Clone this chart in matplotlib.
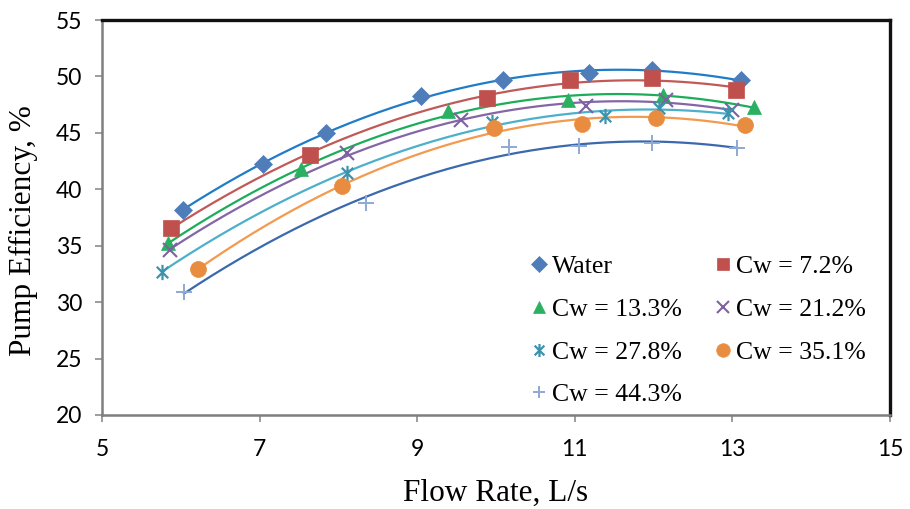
import numpy as np
import matplotlib
matplotlib.use("Agg")
import matplotlib.pyplot as plt
from matplotlib.path import Path

# Pump efficiency vs. flow rate for water and slurries of increasing concentration
labels = ["Water", "Cw = 7.2%", "Cw = 13.3%", "Cw = 21.2%",
          "Cw = 27.8%", "Cw = 35.1%", "Cw = 44.3%"]

q_water = [6.03, 7.04, 7.84, 9.05, 10.09, 11.18, 11.98, 13.11]
e_water = [38.2, 42.25, 45.0, 48.25, 49.7, 50.3, 50.55, 49.7]

q_c07 = [5.87, 7.64, 9.89, 10.94, 11.98, 13.05]
e_c07 = [36.6, 43.05, 48.1, 49.7, 49.85, 48.8]

q_c13 = [5.84, 7.52, 9.39, 10.91, 12.12, 13.27]
e_c13 = [35.2, 41.8, 46.9, 47.9, 48.35, 47.3]

q_c21 = [5.86, 8.11, 9.56, 11.14, 12.16, 13.0]
e_c21 = [34.6, 43.2, 46.1, 47.4, 47.9, 47.0]

q_c28 = [5.76, 8.11, 9.95, 11.38, 12.07, 12.94]
e_c28 = [32.7, 41.45, 45.95, 46.5, 47.2, 46.75]

q_c35 = [6.22, 8.04, 9.97, 11.09, 12.03, 13.16]
e_c35 = [32.9, 40.3, 45.45, 45.8, 46.3, 45.7]

q_c44 = [6.04, 8.35, 10.16, 11.05, 11.98, 13.06]
e_c44 = [30.9, 38.8, 43.75, 43.85, 44.1, 43.65]

flows = [q_water, q_c07, q_c13, q_c21, q_c28, q_c35, q_c44]
effs = [e_water, e_c07, e_c13, e_c21, e_c28, e_c35, e_c44]

x_ticks = [5, 7, 9, 11, 13, 15]
y_ticks = [20, 25, 30, 35, 40, 45, 50, 55]

# six-armed star: an "x" crossed by a vertical stroke
star = Path([(-0.75, -0.75), (0.75, 0.75), (-0.75, 0.75), (0.75, -0.75),
             (0, -1), (0, 1)],
            [Path.MOVETO, Path.LINETO, Path.MOVETO, Path.LINETO,
             Path.MOVETO, Path.LINETO])

# styling per series: marker, marker colour, trendline colour, marker size
markers = ["D", "s", "^", "x", star, "o", "+"]
marker_colors = ["#4F7DB9", "#C0504D", "#2BB062", "#7E619F",
                 "#3C93AE", "#E88D3F", "#8EA9D4"]
line_colors = ["#1F7CC8", "#C05A57", "#1DAD5A", "#8466A6",
               "#4DB0CB", "#F39A4E", "#3B69AD"]
sizes = [9, 11, 10.5, 10, 11, 11.5, 11]
edge_widths = [0.5, 0.5, 0.5, 1.5, 1.6, 0.5, 1.4]

fig = plt.figure(figsize=(9.10, 5.09), dpi=100)
ax = fig.add_axes([0.1121, 0.1847, 0.8659, 0.776])

handles = []
for q, e, m, mc, lc, s, mew in zip(flows, effs, markers, marker_colors,
                                   line_colors, sizes, edge_widths):
    coef = np.polyfit(q, e, 2)
    xs = np.linspace(min(q), max(q), 200)
    ax.plot(xs, np.polyval(coef, xs), color=lc, lw=1.6, zorder=2)
    h = ax.plot(q, e, linestyle="none", marker=m, ms=s, color=mc,
                markeredgecolor=mc, mew=mew, zorder=3)[0]
    handles.append(h)

ax.set_xlim(5, 15)
ax.set_ylim(20, 55)
ax.set_xticks(x_ticks)
ax.set_yticks(y_ticks)

tick_font = {"family": ["Lato", "DejaVu Sans"], "size": 16.5}
ax.set_xticklabels([str(t) for t in x_ticks], **tick_font)
ax.set_yticklabels([str(t) for t in y_ticks], **tick_font)
ax.tick_params(direction="out", length=5, width=1.2, color="#8C8C8C")
ax.tick_params(axis="y", pad=9)
ax.tick_params(axis="x", pad=12)

for side in ("left", "bottom"):
    ax.spines[side].set_color("#7F7F7F")
    ax.spines[side].set_linewidth(1.8)
for side in ("top", "right"):
    ax.spines[side].set_color("#111111")
    ax.spines[side].set_linewidth(2.4)

serif = ["Liberation Serif", "DejaVu Serif"]
ax.set_xlabel("Flow Rate, L/s", family=serif, fontsize=22.5, labelpad=14)
ax.set_ylabel("Pump Efficiency, %", family=serif, fontsize=22.5)
ax.yaxis.set_label_coords(-0.081, 0.466)

order = [0, 2, 4, 6, 1, 3, 5]
leg = ax.legend([handles[i] for i in order], [labels[i] for i in order],
                ncol=2, loc="upper left", bbox_to_anchor=(0.545, 0.405),
                frameon=False, prop={"family": serif, "size": 18.5},
                handlelength=0.6, handletextpad=0.2, columnspacing=1.3,
                labelspacing=0.77, markerscale=0.85, borderaxespad=0,
                borderpad=0)

fig.savefig("out.png", dpi=100, facecolor="white")
